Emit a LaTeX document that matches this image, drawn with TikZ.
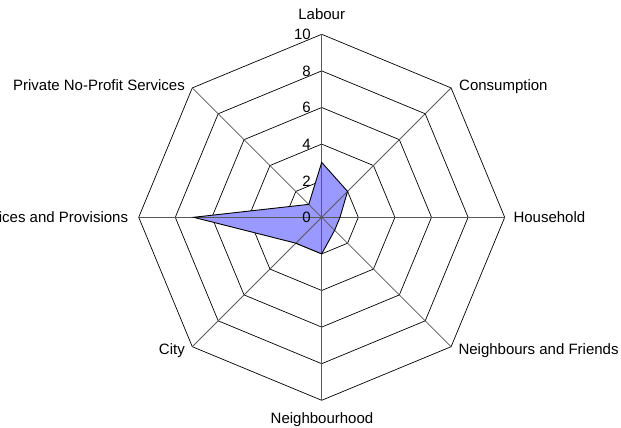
\documentclass[tikz,border=0pt]{standalone}
\usepackage{fontspec}
\setmainfont{Liberation Sans}
\usetikzlibrary{calc}
\begin{document}
\begin{tikzpicture}[x=1pt,y=-1pt,
  ring/.style={draw=black,line width=0.7pt},
  spoke/.style={draw=black!65,line width=0.8pt},
  series/.style={fill=blue!40!white},
  lbl/.style={font=\fontsize{15}{17}\selectfont,inner sep=0pt},
  tick/.style={font=\fontsize{15}{17}\selectfont,inner sep=0pt,anchor=base east}]
\clip (0,0) rectangle (621,428);
\useasboundingbox (0,0) rectangle (621,428);
\coordinate (O) at (321.7,217.3);
\def\R{18.3}
% rings
\foreach \k in {2,4,6,8,10}{
  \draw[ring] ($(O)+(0:{\k*\R})$) -- ($(O)+(45:{\k*\R})$) -- ($(O)+(90:{\k*\R})$) -- ($(O)+(135:{\k*\R})$) -- ($(O)+(180:{\k*\R})$) -- ($(O)+(225:{\k*\R})$) -- ($(O)+(270:{\k*\R})$) -- ($(O)+(315:{\k*\R})$) -- cycle;
}
% series
\coordinate (s1) at ($(O)+(-90:{3*\R})$);
\coordinate (s2) at ($(O)+(-45:{2*\R})$);
\coordinate (s3) at ($(O)+(0:{1*\R})$);
\coordinate (s4) at ($(O)+(45:{1*\R})$);
\coordinate (s5) at ($(O)+(90:{2*\R})$);
\coordinate (s6) at ($(O)+(135:{2*\R})$);
\coordinate (s7) at ($(O)+(180:{7*\R})$);
\coordinate (s8) at ($(O)+(-135:{1*\R})$);
\path[series] (s1) -- (s2) -- (s3) -- (s4) -- (s5) -- (s6) -- (s7) -- (s8) -- cycle;
% spokes
\foreach \a in {-90,-45,0,45,90,135,180,-135}{
  \draw[spoke] (O) -- ($(O)+(\a:{10*\R})$);
}
\draw[black,line width=0.9pt] (s1) -- (s2) -- (s3) -- (s4) -- (s5) -- (s6) -- (s7) -- (s8) -- cycle;
% ticks
\foreach \k in {0,2,4,6,8,10}{
  \node[tick] (t\k) at (311,{217.3-\k*\R+5.3}) {\k};
}
% labels
\node[lbl,anchor=base] (labour) at (321.7,20) {Labour};
\node[lbl,anchor=base west] (cons) at (459,90.5) {Consumption};
\node[lbl,anchor=base west] (house) at (513.3,222.3) {Household};
\node[lbl,anchor=base west] (nf) at (458.3,354.3) {Neighbours and Friends};
\node[lbl,anchor=base] (nh) at (322,423.5) {Neighbourhood};
\node[lbl,anchor=base east] (city) at (185,354.3) {City};
\node[lbl,anchor=base east] (serv) at (128.3,222.3) {Services and Provisions};
\node[lbl,anchor=base east] (priv) at (185,90.5) {Private No-Profit Services};
\end{tikzpicture}
\end{document}
